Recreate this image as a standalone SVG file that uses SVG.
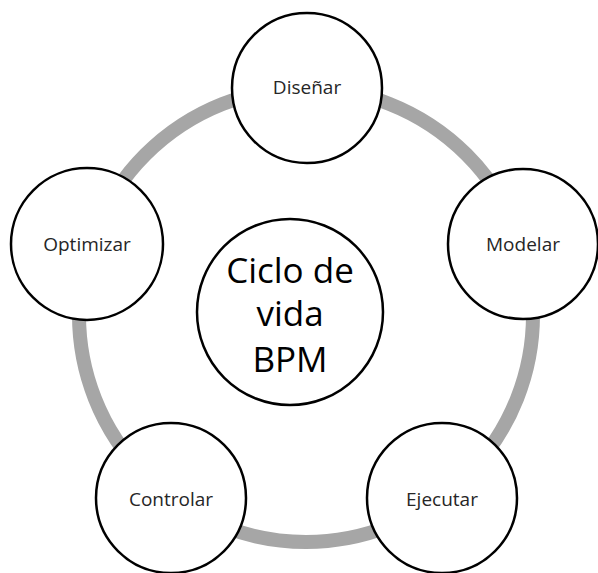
<svg xmlns="http://www.w3.org/2000/svg" width="598" height="573" viewBox="0 0 598 573">
<style>
.n{fill:#fff;stroke:#000;stroke-width:2.5}
.t{font-family:"Open Sans","Liberation Sans",sans-serif;font-size:19px;fill:#262626;text-anchor:middle}
.c{font-family:"Open Sans","Liberation Sans",sans-serif;font-size:35px;fill:#000;text-anchor:middle}
</style>
<rect width="598" height="573" fill="#fff"/>
<g id="connectors">
<circle cx="306" cy="315" r="227" fill="none" stroke="#a6a6a6" stroke-width="14"/>
</g>
<g id="center">
<circle class="n" cx="290" cy="312" r="93"/>
<text class="c" x="290" y="283">Ciclo de</text>
<text class="c" x="290" y="326">vida</text>
<text class="c" x="290" y="372">BPM</text>
</g>
<g id="disenar">
<circle class="n" cx="307" cy="88" r="75"/>
<text class="t" x="307" y="94">Diseñar</text>
</g>
<g id="modelar">
<circle class="n" cx="523" cy="244" r="75"/>
<text class="t" x="523" y="251">Modelar</text>
</g>
<g id="ejecutar">
<circle class="n" cx="442" cy="498" r="75"/>
<text class="t" x="442" y="506">Ejecutar</text>
</g>
<g id="controlar">
<circle class="n" cx="171" cy="498" r="75"/>
<text class="t" x="171" y="506">Controlar</text>
</g>
<g id="optimizar">
<circle class="n" cx="87" cy="244" r="76"/>
<text class="t" x="87" y="251">Optimizar</text>
</g>
</svg>
